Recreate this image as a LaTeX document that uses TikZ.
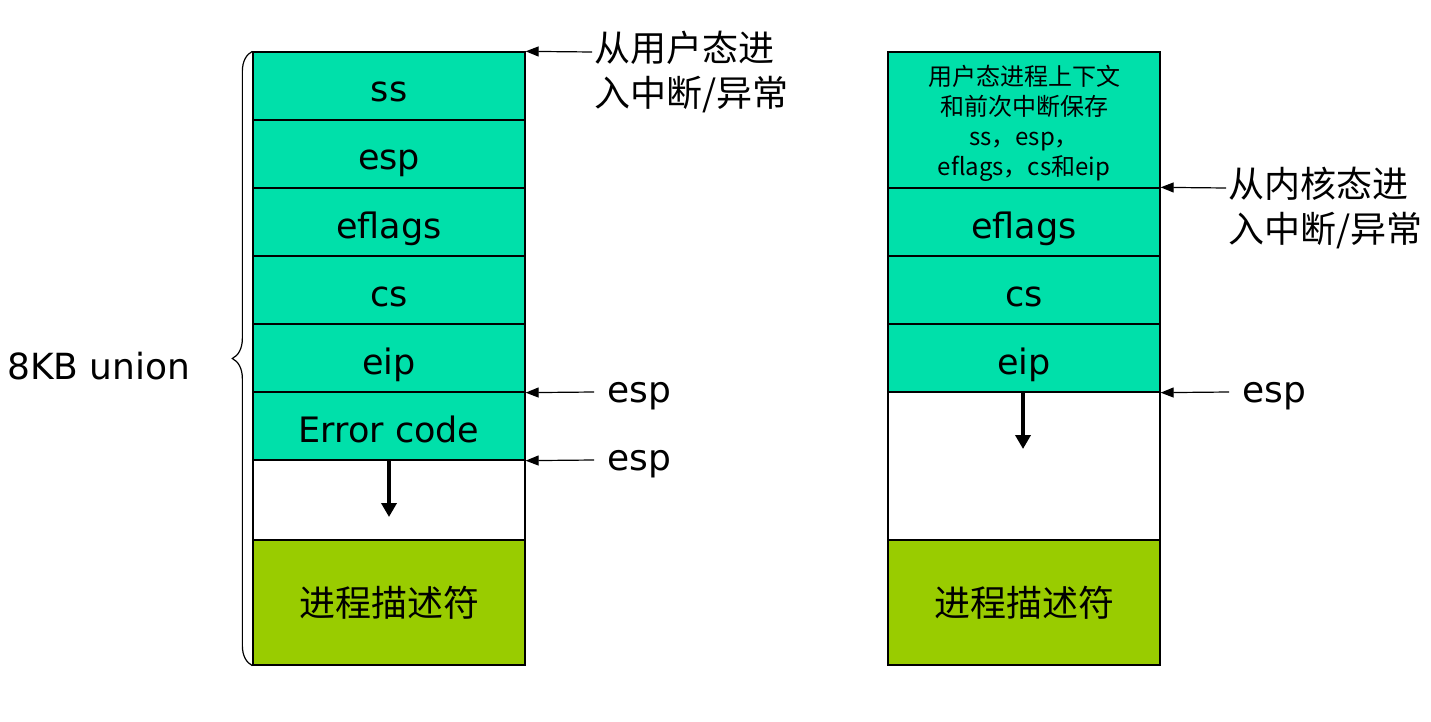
\documentclass[tikz,border=0pt]{standalone}
\usepackage{fontspec}
\setmainfont{DejaVu Sans}
\newfontfamily\cjk{Noto Sans CJK SC}
\usetikzlibrary{decorations.pathreplacing,arrows.meta}
\definecolor{tealc}{RGB}{0,224,170}
\definecolor{greenc}{RGB}{153,204,0}
\tikzset{
  cell/.style={draw=black, line width=1.3pt, fill=tealc, minimum width=272pt, minimum height=68pt, inner sep=0pt, font=\fontsize{35}{40}\selectfont, text height=32pt, text depth=0pt},
  emptycell/.style={cell, fill=white},
  desc/.style={cell, fill=greenc, minimum height=125pt, font=\cjk\fontsize{36}{40}\selectfont, text height=28pt, text depth=0pt},
  ptr/.style={line width=1.2pt, -{Triangle[length=13pt,width=10pt]}},
  growarrow/.style={line width=3.5pt, -{Triangle[length=14pt,width=15pt]}},
  lbl/.style={font=\fontsize{36}{40}\selectfont, inner sep=0pt, anchor=base west},
  cjklbl/.style={font=\cjk\fontsize{36}{45}\selectfont, inner sep=0pt, anchor=west, align=left},
  smalltext/.style={font=\cjk\fontsize{24}{30}\selectfont, align=center, inner sep=0pt}
}
\begin{document}
\begin{tikzpicture}[x=1pt,y=-1pt]
\useasboundingbox (0,0) rectangle (1431,722);
% left stack
\node[cell] (ssL) at (389,86) {ss};
\node[cell] (espL) at (389,154) {esp};
\node[cell] (eflL) at (389,222) {eflags};
\node[cell] (csL) at (389,290) {cs};
\node[cell] (eipL) at (389,358) {eip};
\node[cell] (errL) at (389,426) {Error code};
\node[emptycell, minimum height=80pt] (freeL) at (389,500) {};
\node[desc] (descL) at (389,602.5) {进程描述符};
% right stack
\node[cell, minimum height=136pt] (ctxR) at (1024,120) {};
\node[smalltext] (ctxT) at (1024,123) {用户态进程上下文\\和前次中断保存\\ss，esp，\\eflags，cs和eip};
\node[cell] (eflR) at (1024,222) {eflags};
\node[cell] (csR) at (1024,290) {cs};
\node[cell] (eipR) at (1024,358) {eip};
\node[emptycell, minimum height=148pt] (freeR) at (1024,466) {};
\node[desc] (descR) at (1024,602.5) {进程描述符};
% brace
\node[lbl] (kb) at (7,379) {8KB union};
\draw[line width=1.2pt, decorate, decoration={brace, amplitude=20pt, mirror}] (ssL.north west) -- (descL.south west);
% entry arrows
\coordinate (enL) at (592,52);
\node[cjklbl] (enLt) at (594,72) {从用户态进\\入中断/异常};
\draw[ptr] (enL) -- (ssL.north east);
\coordinate (enR) at (1226,188);
\node[cjklbl] (enRt) at (1228,208) {从内核态进\\入中断/异常};
\draw[ptr] (enR) -- (eflR.north east);
% esp arrows
\coordinate (e1) at (594,392);
\node[lbl] (e1t) at (607,402) {esp};
\draw[ptr] (e1) -- (eipL.south east);
\coordinate (e2) at (594,460);
\node[lbl] (e2t) at (607,470) {esp};
\draw[ptr] (e2) -- (errL.south east);
\coordinate (e3) at (1229,392);
\node[lbl] (e3t) at (1242,402) {esp};
\draw[ptr] (e3) -- (eipR.south east);
% growth arrows
\coordinate (gL) at (389,517);
\draw[growarrow] (errL.south) -- (gL);
\coordinate (gR) at (1023,449);
\draw[growarrow] (eipR.south -| gR) -- (gR);
\end{tikzpicture}
\end{document}
